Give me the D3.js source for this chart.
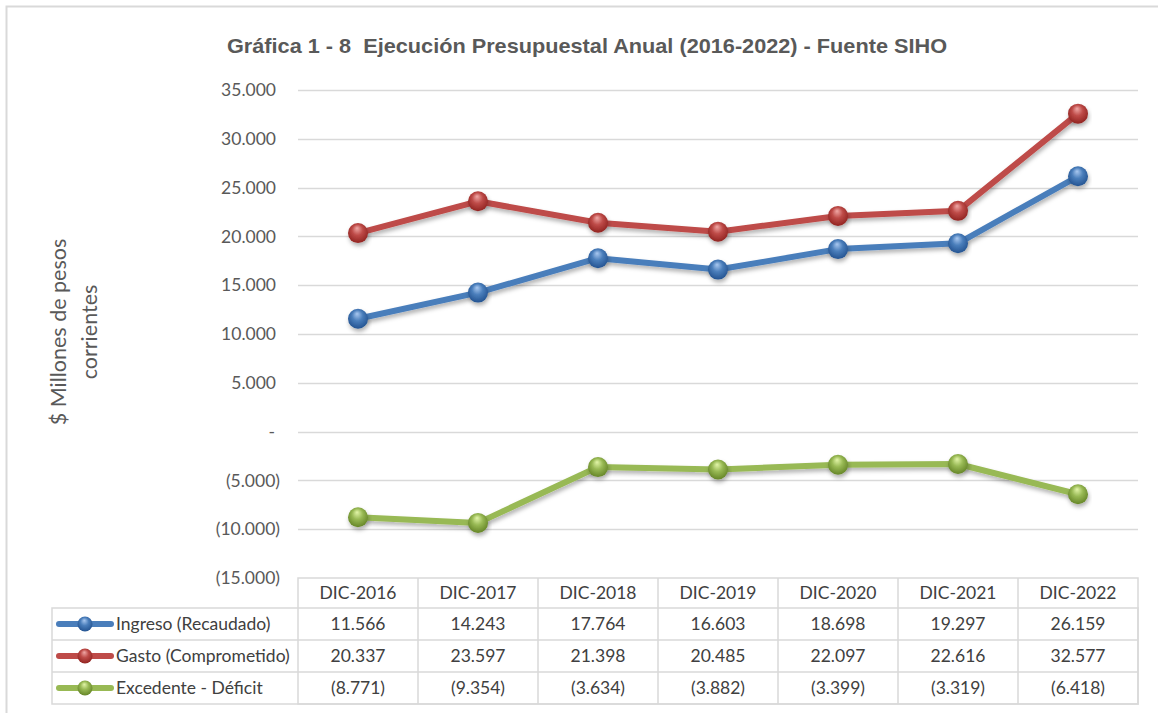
<!DOCTYPE html>
<html>
<head>
<meta charset="utf-8">
<script src="https://cdn.jsdelivr.net/npm/d3@7"></script>
<style>
  html, body { margin: 0; padding: 0; background: #fff; }
  svg { display: block; }
</style>
</head>
<body>
<svg id="chart" width="1158" height="713"></svg>
<script>
const categories = ["DIC-2016","DIC-2017","DIC-2018","DIC-2019","DIC-2020","DIC-2021","DIC-2022"];
const ingreso = [11566, 14243, 17764, 16603, 18698, 19297, 26159];
const gasto = [20337, 23597, 21398, 20485, 22097, 22616, 32577];
const excedente = [-8771, -9354, -3634, -3882, -3399, -3319, -6418];
const seriesNames = ["Ingreso (Recaudado)", "Gasto (Comprometido)", "Excedente - Déficit"];
const yTicks = [35000, 30000, 25000, 20000, 15000, 10000, 5000, 0, -5000, -10000, -15000];
const titleText = "Gráfica 1 - 8  Ejecución Presupuestal Anual (2016-2022) - Fuente SIHO";
const yTitle = ["$ Millones de pesos", "corrientes"];

const series = [
  { name: seriesNames[0], values: ingreso, color: "#4a7ebb", light: "#a9c8f0", dark: "#1f4e8c" },
  { name: seriesNames[1], values: gasto, color: "#be4b48", light: "#f0a8a6", dark: "#8c1f1c" },
  { name: seriesNames[2], values: excedente, color: "#98b954", light: "#e2f5a8", dark: "#5f7f22" }
];

const loc = d3.formatLocale({ decimal: ",", thousands: ".", grouping: [3], currency: ["$", ""] });
const f = loc.format(",.0f");
const fmt = v => v === 0 ? "-" : (v < 0 ? "(" + f(-v) + ")" : f(v));

const svg = d3.select("#chart");
const W = 1158, H = 713;
const plotL = 298, plotR = 1138, plotT = 90, plotB = 578;

const x = d3.scaleBand().domain(categories).range([plotL, plotR]);
const y = d3.scaleLinear().domain([-15000, 35000]).range([plotB, plotT]);

const defs = svg.append("defs");
series.forEach((s, i) => {
  const g = defs.append("radialGradient").attr("id", "grad" + i)
    .attr("cx", "50%").attr("cy", "45%").attr("r", "60%")
    .attr("fx", "45%").attr("fy", "25%");
  g.append("stop").attr("offset", "0%").attr("stop-color", s.light);
  g.append("stop").attr("offset", "45%").attr("stop-color", s.color);
  g.append("stop").attr("offset", "100%").attr("stop-color", s.dark);
});
const filt = defs.append("filter").attr("id", "shadow").attr("x", "-20%").attr("y", "-20%").attr("width", "140%").attr("height", "160%");
filt.append("feDropShadow").attr("dx", 1).attr("dy", 3).attr("stdDeviation", 2).attr("flood-color", "#000").attr("flood-opacity", 0.3);

// outer frame
svg.append("rect").attr("x", 6.5).attr("y", 6.5).attr("width", W + 20).attr("height", H + 20)
  .attr("fill", "none").attr("stroke", "#d9d9d9").attr("stroke-width", 2);

// title
svg.append("text").attr("x", 587).attr("y", 53).attr("text-anchor", "middle")
  .style("white-space", "pre").attr("xml:space", "preserve")
  .attr("font-family", "'Liberation Sans Narrow', 'Arial Narrow', 'Liberation Sans', Arial, sans-serif")
  .attr("font-weight", "bold").attr("font-size", 21).attr("fill", "#595959")
  .attr("textLength", 720).attr("lengthAdjust", "spacingAndGlyphs")
  .text(titleText);

const font = "Lato, 'Open Sans', sans-serif";
const fs = 17.5;

// gridlines
svg.append("g").selectAll("line").data(yTicks.filter(t => t !== -15000)).join("line")
  .attr("x1", plotL).attr("x2", plotR)
  .attr("y1", d => Math.round(y(d)) + 0.5).attr("y2", d => Math.round(y(d)) + 0.5)
  .attr("stroke", "#d9d9d9").attr("stroke-width", 1.5);

// y axis labels
const yAxis = d3.axisLeft(y).tickValues(yTicks).tickSize(0).tickPadding(0).tickFormat(fmt);
const ya = svg.append("g").attr("transform", "translate(280,0)").call(yAxis);
ya.select(".domain").remove();
ya.selectAll("text").attr("font-family", font).attr("font-size", fs).attr("fill", "#595959")
  .attr("dx", d => d > 0 ? -4 : (d === 0 ? -5 : 0));

// y title
const yt = svg.append("text").attr("transform", "translate(0,332) rotate(-90)")
  .attr("text-anchor", "middle").attr("font-family", font).attr("font-size", 21.5).attr("fill", "#595959");
yt.append("tspan").attr("x", 0).attr("y", 66).text(yTitle[0]);
yt.append("tspan").attr("x", 0).attr("y", 97).text(yTitle[1]);

// lines
const line = d3.line().x((d, i) => x(categories[i]) + x.bandwidth() / 2).y(d => y(d));
series.forEach((s, i) => {
  svg.append("path").datum(s.values).attr("d", line).attr("fill", "none")
    .attr("stroke", s.color).attr("stroke-width", 6).attr("stroke-linejoin", "round")
    .attr("filter", "url(#shadow)");
});
series.forEach((s, i) => {
  svg.append("g").selectAll("circle").data(s.values).join("circle")
    .attr("cx", (d, j) => x(categories[j]) + x.bandwidth() / 2).attr("cy", d => y(d))
    .attr("r", 10).attr("fill", `url(#grad${i})`).attr("filter", "url(#shadow)");
});

// data table
const rowH = [578, 608, 640, 672, 704];
const tableL = 52;
const tg = svg.append("g");
const bc = "#d9d9d9";
tg.append("rect").attr("x", plotL).attr("y", rowH[0]).attr("width", plotR - plotL).attr("height", rowH[4] - rowH[0])
  .attr("fill", "none").attr("stroke", bc).attr("stroke-width", 1.5);
tg.append("rect").attr("x", tableL).attr("y", rowH[1]).attr("width", plotR - tableL).attr("height", rowH[4] - rowH[1])
  .attr("fill", "none").attr("stroke", bc).attr("stroke-width", 1.5);
for (let r = 2; r < 4; r++) {
  tg.append("line").attr("x1", tableL).attr("x2", plotR).attr("y1", rowH[r]).attr("y2", rowH[r])
    .attr("stroke", bc).attr("stroke-width", 1.5);
}
categories.slice(1).forEach(c => {
  tg.append("line").attr("x1", x(c)).attr("x2", x(c)).attr("y1", rowH[0]).attr("y2", rowH[4])
    .attr("stroke", bc).attr("stroke-width", 1.5);
});
tg.selectAll("text.hdr").data(categories).join("text").attr("class", "hdr")
  .attr("x", d => x(d) + x.bandwidth() / 2).attr("y", (rowH[0] + rowH[1]) / 2 + 6)
  .attr("text-anchor", "middle").attr("font-family", font).attr("font-size", fs).attr("fill", "#404040")
  .text(d => d);
series.forEach((s, i) => {
  const cy = (rowH[i + 1] + rowH[i + 2]) / 2;
  tg.selectAll("text.v" + i).data(s.values).join("text").attr("class", "v" + i)
    .attr("x", (d, j) => x(categories[j]) + x.bandwidth() / 2).attr("y", cy + 6)
    .attr("text-anchor", "middle").attr("font-family", font).attr("font-size", fs).attr("fill", "#404040")
    .text(fmt);
  tg.append("line").attr("x1", 59).attr("x2", 111).attr("y1", cy).attr("y2", cy)
    .attr("stroke", s.color).attr("stroke-width", 6).attr("stroke-linecap", "round");
  tg.append("circle").attr("cx", 85).attr("cy", cy).attr("r", 7.5).attr("fill", `url(#grad${i})`);
  tg.append("text").attr("x", 116).attr("y", cy + 6).attr("font-family", font).attr("font-size", fs)
    .attr("fill", "#404040").text(s.name);
});
</script>
</body>
</html>
